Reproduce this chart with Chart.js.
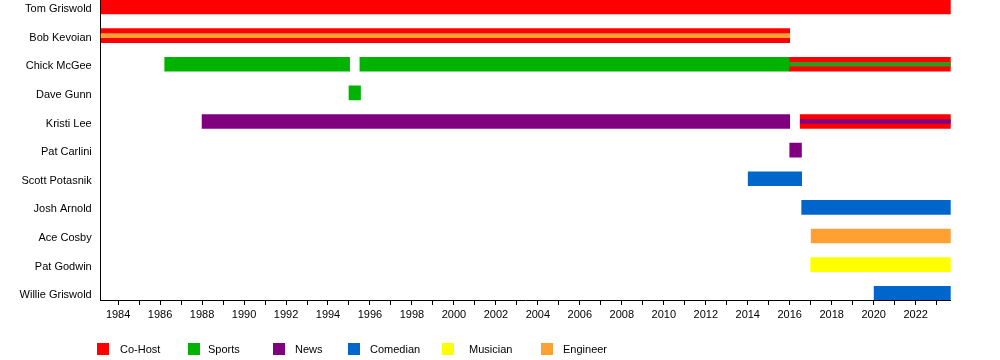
<!DOCTYPE html>
<html>
<head>
<meta charset="utf-8">
<script src="https://cdn.jsdelivr.net/npm/chart.js@4.4.1/dist/chart.umd.min.js"></script>
<style>
  html, body { margin: 0; padding: 0; background: #fff; }
  #wrap { position: relative; width: 1000px; height: 360px; }
  canvas { position: absolute; left: 0; top: 0; }
  .lg { position: absolute; font-family: "Liberation Sans", Arial, sans-serif; font-size: 11px; color: #000; line-height: 12px; }
  .sq { position: absolute; width: 12px; height: 12px; }
</style>
</head>
<body>
<div id="wrap">
  <canvas id="c" width="1000" height="360"></canvas>
  <div id="legend"></div>
</div>
<script>
// ---- data ----
const people = ['Tom Griswold', 'Bob Kevoian', 'Chick McGee', 'Dave Gunn', 'Kristi Lee', 'Pat Carlini',
                'Scott Potasnik', 'Josh Arnold', 'Ace Cosby', 'Pat Godwin', 'Willie Griswold'];
const roles = ['Co-Host', 'Sports', 'News', 'Comedian', 'Musician', 'Engineer'];
const roleColors = ['#ff0000', '#00b300', '#800080', '#0066cc', '#ffff00', '#ffa033'];
const yearStart = 1983.17;
const yearEnd = 2023.67;
const yearTicks = [1984, 1985, 1986, 1987, 1988, 1989, 1990, 1991, 1992, 1993, 1994, 1995, 1996, 1997, 1998, 1999,
                   2000, 2001, 2002, 2003, 2004, 2005, 2006, 2007, 2008, 2009, 2010, 2011, 2012, 2013, 2014, 2015,
                   2016, 2017, 2018, 2019, 2020, 2021, 2022, 2023];

// spans: [person, start, end]
const coHostSpans = [['Tom Griswold', 1983.17, 2023.67], ['Bob Kevoian', 1983.17, 2016.0],
                     ['Chick McGee', 2016.0, 2023.67], ['Kristi Lee', 2016.5, 2023.67]];
const sportsSpans = [['Chick McGee', 1986.22, 1995.03], ['Dave Gunn', 1995.0, 1995.55], ['Chick McGee', 1995.52, 2016.0]];
const newsSpans = [['Kristi Lee', 1988.0, 2016.0], ['Pat Carlini', 2016.0, 2016.56]];
const comedianSpans = [['Scott Potasnik', 2014.02, 2016.57], ['Josh Arnold', 2016.57, 2023.67], ['Willie Griswold', 2020.02, 2023.67]];
const musicianSpans = [['Pat Godwin', 2017.0, 2023.67]];
const engineerSpans = [['Ace Cosby', 2017.02, 2023.67]];
// secondary role stripes inside co-host bars
const engineerStripe = [['Bob Kevoian', 1983.17, 2016.0]];
const sportsStripe = [['Chick McGee', 2016.0, 2023.67]];
const newsStripe = [['Kristi Lee', 2016.5, 2023.67]];

// ---- build ----
function toPoints(spans) {
  return spans.map(s => ({ x: [s[1], s[2]], y: people.indexOf(s[0]) }));
}
function ds(label, spans, color, thick, order) {
  return { label, data: toPoints(spans), backgroundColor: color, borderWidth: 0,
           barThickness: thick, grouped: false, order };
}
const datasets = [
  ds('Co-Host', coHostSpans, roleColors[0], 14, 1),
  ds('Sports', sportsSpans, roleColors[1], 14, 1),
  ds('News', newsSpans, roleColors[2], 14, 1),
  ds('Comedian', comedianSpans, roleColors[3], 14, 1),
  ds('Musician', musicianSpans, roleColors[4], 14, 1),
  ds('Engineer', engineerSpans, roleColors[5], 14, 1),
  ds('Engineer (2nd)', engineerStripe, roleColors[5], 4, 0),
  ds('Sports (2nd)', sportsStripe, '#2f9a1f', 4, 0),
  ds('News (2nd)', newsStripe, roleColors[2], 4, 0)
];

const FONT = { family: '"Liberation Sans", Arial, sans-serif', size: 11 };

new Chart(document.getElementById('c'), {
  type: 'bar',
  data: { datasets },
  options: {
    responsive: false,
    animation: false,
    indexAxis: 'y',
    layout: { padding: { left: 0, right: 49.3, top: 0, bottom: 0 } },
    plugins: { legend: { display: false }, tooltip: { enabled: false } },
    scales: {
      x: {
        type: 'linear',
        min: yearStart,
        max: yearEnd,
        offset: false,
        afterBuildTicks: s => { s.ticks = yearTicks.map(v => ({ value: v })); },
        afterFit: s => { s.height = 60; s.paddingLeft = 0; s.paddingRight = 0; },
        ticks: {
          autoSkip: false, maxRotation: 0, color: '#000', font: FONT, padding: 3,
          callback: v => (v % 2 === 0 ? String(v) : '')
        },
        grid: { display: true, drawOnChartArea: false, drawTicks: true, tickLength: 5, color: '#000', lineWidth: 1, offset: false },
        border: { display: true, color: '#000', width: 1 }
      },
      y: {
        type: 'linear',
        reverse: true,
        offset: false,
        min: -0.245,
        max: 10.234,
        afterBuildTicks: s => { s.ticks = people.map((_, i) => ({ value: i })); },
        afterFit: s => { s.width = 100.7; s.paddingTop = 0; s.paddingBottom = 0; },
        ticks: { autoSkip: false, color: '#000', font: FONT, padding: 9, labelOffset: 2, callback: v => people[v] },
        grid: { display: false, drawTicks: false, offset: false },
        border: { display: true, color: '#000', width: 1 }
      }
    }
  }
});

// legend (positions are layout only)
const legendX = [97, 188, 273, 348, 442, 541];
const legendTextX = [120, 208, 295, 370, 469, 563];
const lg = document.getElementById('legend');
roles.forEach((r, i) => {
  const sq = document.createElement('div');
  sq.className = 'sq';
  sq.style.left = legendX[i] + 'px';
  sq.style.top = '343px';
  sq.style.background = roleColors[i];
  lg.appendChild(sq);
  const t = document.createElement('div');
  t.className = 'lg';
  t.style.left = legendTextX[i] + 'px';
  t.style.top = '343px';
  t.textContent = r;
  lg.appendChild(t);
});
</script>
</body>
</html>
